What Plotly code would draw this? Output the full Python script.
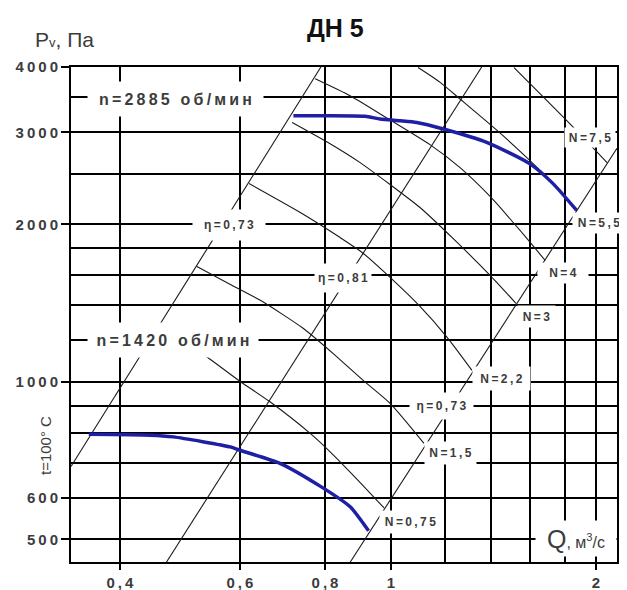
import numpy as np
import plotly.graph_objects as go

# ---------------- data ----------------
# fan curves, Q in m3/s, Pv in Pa
q_2885 = [0.719, 0.80, 0.916, 0.964, 1.031, 1.091, 1.194, 1.382, 1.600, 1.731, 1.872]
p_2885 = [3228, 3228, 3220, 3182, 3158, 3134, 3045, 2871, 2611, 2391, 2129]
q_1420 = [0.360, 0.443, 0.479, 0.581, 0.600, 0.688, 0.787, 0.871, 0.927]
p_1420 = [794, 791, 785, 751, 740, 698, 632, 577, 519]

# efficiency boundary lines
eta_left_q = [0.339, 0.789]
eta_left_p = [689, 4000]
eta_mid_q = [0.468, 1.359]
eta_mid_p = [452, 4000]
eta_right_q = [0.871, 2.147]
eta_right_p = [452, 2797]

# power lines N (kW)
n75_q = [1.516, 1.812, 2.076]
n75_p = [3990, 3158, 2626]
n55_q = [1.096, 1.181, 1.263, 1.430, 1.600, 1.741, 1.874]
n55_p = [3990, 3738, 3474, 3029, 2649, 2373, 2126]
n4_q = [0.774, 0.871, 0.974, 1.141, 1.263, 1.398, 1.547, 1.684]
n4_p = [3799, 3525, 3228, 2842, 2568, 2262, 1948, 1707]
n3_q = [0.716, 0.814, 0.901, 0.997, 1.103, 1.242, 1.398, 1.526]
n3_p = [3134, 2854, 2626, 2384, 2155, 1864, 1598, 1413]
n22_q = [0.619, 0.736, 0.842, 0.907, 0.997, 1.103, 1.209, 1.315]
n22_p = [2394, 2108, 1888, 1768, 1584, 1394, 1217, 1052]
n15_q = [0.518, 0.581, 0.643, 0.743, 0.828, 0.910, 0.997, 1.118]
n15_p = [1663, 1536, 1432, 1266, 1124, 1007, 910, 763]
n075_q = [0.507, 0.537, 0.600, 0.665, 0.761, 0.814, 0.886, 0.977]
n075_p = [1175, 1116, 1003, 915, 797, 735, 657, 574]

# axis ticks / grid
x_tickvals = [0.4, 0.6, 0.8, 1, 2]
x_ticktext = ["0,4", "0,6", "0,8", "1", "2"]
x_minor = [1.2, 1.4, 1.6, 1.8]
y_tickvals = [500, 600, 1000, 2000, 3000, 4000]
y_ticktext = ["500", "600", "1000", "2000", "3000", "4000"]
y_minor = [700, 800, 900, 1200, 1400, 1600, 1800, 2500, 3500]

# in-plot labels: text, Q, P, box width, box height
label_text = ["n=2885 об/мин", "n=1420 об/мин", "η=0,73", "η=0,81", "η=0,73",
              "N=7,5", "N=5,5", "N=4", "N=3", "N=2,2", "N=1,5", "N=0,75"]
label_q = [0.483, 0.478, 0.5785, 0.8506, 1.1865, 1.960, 2.020, 1.789, 1.638, 1.4535, 1.221, 1.0685]
label_p = [3479, 1200, 1991, 1577, 898, 2938, 2017, 1612, 1335, 1014, 731, 540]
label_w = [175, 170, 72, 56, 63, 50, 52, 50, 37, 57, 51, 61]
label_h = [34, 34, 30, 28, 26, 19, 20, 20, 21, 23, 22, 22]
label_size = [16, 16, 12, 12, 12, 12, 12, 12, 12, 12, 12, 12]

# ---------------- figure ----------------
FONT = "Liberation Sans, Arial, sans-serif"
TXT = "#3c3c3c"
BLUE = "#1f1fa5"


def spaced(s, sep="\u2009"):
    return sep.join(list(s))


fig = go.Figure()

thin = dict(color="#1a1a1a", width=1.1)
for q, p in [(eta_left_q, eta_left_p), (eta_mid_q, eta_mid_p), (eta_right_q, eta_right_p)]:
    fig.add_trace(go.Scatter(x=q, y=p, mode="lines", line=thin, hoverinfo="skip", showlegend=False))

for q, p in [(n75_q, n75_p), (n55_q, n55_p), (n4_q, n4_p), (n3_q, n3_p),
             (n22_q, n22_p), (n15_q, n15_p), (n075_q, n075_p)]:
    fig.add_trace(go.Scatter(x=q, y=p, mode="lines",
                             line=dict(color="#1a1a1a", width=1.1, shape="spline", smoothing=0.6),
                             hoverinfo="skip", showlegend=False))

for q, p in [(q_2885, p_2885), (q_1420, p_1420)]:
    fig.add_trace(go.Scatter(x=q, y=p, mode="lines",
                             line=dict(color=BLUE, width=3.5, shape="spline", smoothing=0.6),
                             hoverinfo="skip", showlegend=False))

annotations = []
for t, q, p, w, h, s in zip(label_text, label_q, label_p, label_w, label_h, label_size):
    annotations.append(dict(
        x=np.log10(q), y=np.log10(p), xref="x", yref="y", text="<b>" + spaced(t) + "</b>",
        showarrow=False, bgcolor="white", width=w, height=h, borderpad=0,
        font=dict(family=FONT, size=s, color=TXT), align="center", valign="middle"))

# Q axis label on the 500 grid line
annotations.append(dict(
    x=np.log10(1.8693), y=np.log10(501.8), xref="x", yref="y",
    text="Q<span style='font-size:16px'>, м<sup>3</sup>/с</span>",
    showarrow=False, bgcolor="white", width=80, height=35, borderpad=0,
    font=dict(family=FONT, size=25, color=TXT)))

# Pv axis title, chart title, temperature note
annotations.append(dict(x=-0.0696, y=1.0565, xref="paper", yref="paper", xanchor="left", yanchor="middle",
                        text="P<span style='font-size:13px'>v</span>, Па", showarrow=False,
                        font=dict(family=FONT, size=21, color=TXT)))
annotations.append(dict(x=0.4853, y=1.0788, xref="paper", yref="paper", xanchor="center", yanchor="middle",
                        text="<b>ДН 5</b>", showarrow=False,
                        font=dict(family=FONT, size=25, color="#111")))
annotations.append(dict(x=-0.0476, y=0.2343, xref="paper", yref="paper", xanchor="center", yanchor="middle",
                        text="t=100° C", textangle=-90, showarrow=False,
                        font=dict(family=FONT, size=15, color=TXT)))

# the page body adds an 8 px offset, so the figure is 8 px smaller on each side
fig.update_layout(
    width=619, height=582,
    margin=dict(l=63, r=10, t=59, b=28, autoexpand=False),
    paper_bgcolor="white", plot_bgcolor="white",
    annotations=annotations,
    showlegend=False,
)

fig.update_xaxes(
    type="log", range=[np.log10(0.339), np.log10(2.147)], automargin=False,
    tickvals=x_tickvals, ticktext=["<b>" + spaced(t) + "</b>" for t in x_ticktext],
    tickfont=dict(family=FONT, size=15, color=TXT),
    showgrid=True, gridcolor="black", gridwidth=2,
    minor=dict(tickvals=x_minor, showgrid=True, gridcolor="black", gridwidth=2, ticks=""),
    showline=True, mirror=True, linecolor="black", linewidth=2,
    ticks="outside", ticklen=6, tickwidth=2, tickcolor="black",
    zeroline=False,
)
fig.update_yaxes(
    type="log", range=[np.log10(452.5), np.log10(4000)], automargin=False,
    tickvals=y_tickvals, ticktext=["<b>" + spaced(t) + "</b>" for t in y_ticktext],
    tickfont=dict(family=FONT, size=15, color=TXT),
    showgrid=True, gridcolor="black", gridwidth=2,
    minor=dict(tickvals=y_minor, showgrid=True, gridcolor="black", gridwidth=2, ticks=""),
    showline=True, mirror=True, linecolor="black", linewidth=2,
    ticks="outside", ticklen=8, tickwidth=2, tickcolor="black",
    zeroline=False,
)

fig.write_html("out.html")
